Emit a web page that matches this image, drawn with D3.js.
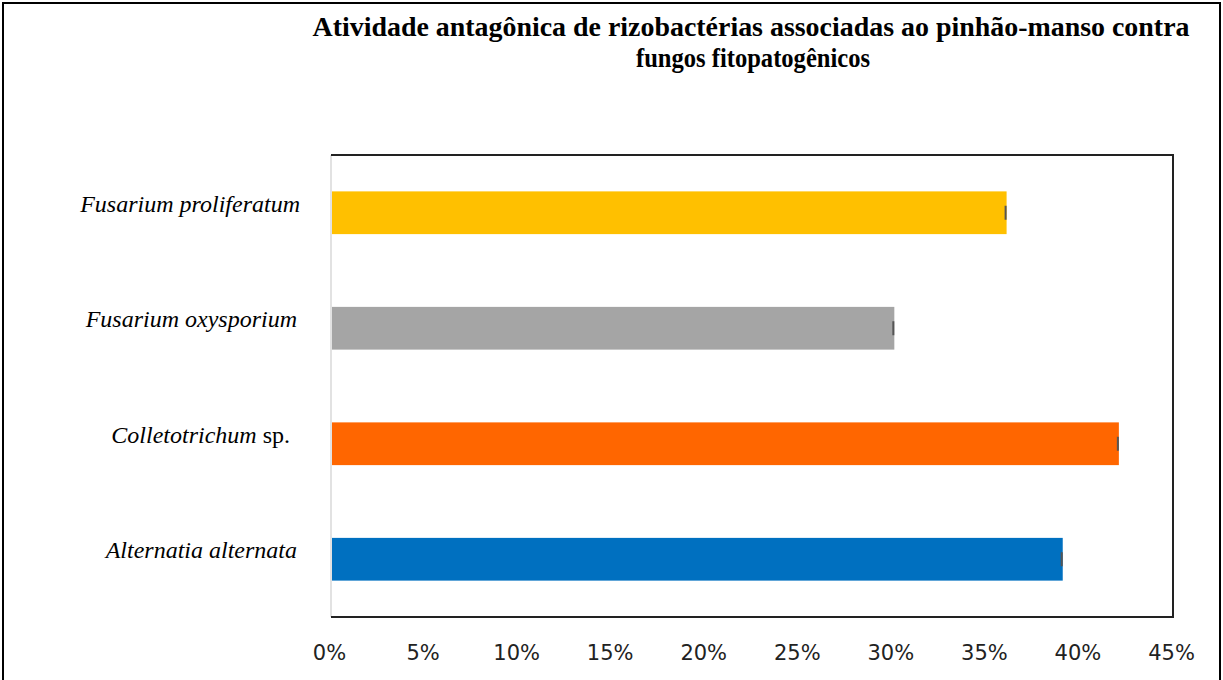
<!DOCTYPE html>
<html lang="pt">
<head>
<meta charset="utf-8">
<title>Atividade antagônica</title>
<script src="https://cdn.jsdelivr.net/npm/d3@7"></script>
<style>
  body { margin: 0; background: #fff; }
</style>
</head>
<body>
<div id="chart"></div>
<script>
// data, top to bottom
var fungi = ["Fusarium proliferatum", "Fusarium oxysporium", "Colletotrichum", "Alternatia alternata"];
var suffixes = ["", "", " sp.", ""];
var values = [36, 30, 42, 39];
var colors = ["#FFC000", "#A5A5A5", "#FF6600", "#0070C0"];
var ticks = [0, 5, 10, 15, 20, 25, 30, 35, 40, 45];

var WIDTH = 1223, HEIGHT = 680;
var plotL = 331, plotR = 1173, plotT = 155, plotB = 617;
var SERIF = "'Liberation Serif', 'Times New Roman', serif";

var svg = d3.select("#chart").append("svg")
    .attr("width", WIDTH)
    .attr("height", HEIGHT);

// outer frame
svg.append("rect")
    .attr("x", 3).attr("y", 3)
    .attr("width", 1217).attr("height", 720)
    .attr("fill", "none")
    .attr("stroke", "#000")
    .attr("stroke-width", 2);

// title
svg.append("text")
    .attr("x", 751).attr("y", 36)
    .attr("text-anchor", "middle")
    .attr("font-family", SERIF)
    .attr("font-weight", "bold")
    .attr("font-size", 28)
    .attr("textLength", 877)
    .attr("lengthAdjust", "spacingAndGlyphs")
    .text("Atividade antagônica de rizobactérias associadas ao pinhão-manso contra");
svg.append("text")
    .attr("x", 753).attr("y", 67)
    .attr("text-anchor", "middle")
    .attr("font-family", SERIF)
    .attr("font-weight", "bold")
    .attr("font-size", 28)
    .attr("textLength", 234)
    .attr("lengthAdjust", "spacingAndGlyphs")
    .text("fungos fitopatogênicos");

var x = d3.scaleLinear().domain([0, 45]).range([plotL, plotR]);
var y = d3.scaleBand().domain(fungi).range([plotT, plotB]).paddingInner(0.63).paddingOuter(0.315);

// plot frame
svg.append("line")
    .attr("x1", plotL).attr("x2", plotL).attr("y1", plotT).attr("y2", plotB)
    .attr("stroke", "#d9d9d9").attr("stroke-width", 1.5);
svg.append("path")
    .attr("d", "M" + plotL + "," + plotT + "H" + plotR + "V" + plotB + "H" + plotL)
    .attr("fill", "none")
    .attr("stroke", "#222")
    .attr("stroke-width", 2);

// bars
svg.selectAll("rect.bar").data(fungi).enter().append("rect")
    .attr("class", "bar")
    .attr("x", x(0) + 1)
    .attr("y", function(d) { return y(d); })
    .attr("width", function(d, i) { return x(values[i]) - x(0) + 1; })
    .attr("height", y.bandwidth())
    .attr("fill", function(d, i) { return colors[i]; });

// tiny error marks at bar ends
svg.selectAll("line.err").data(fungi).enter().append("line")
    .attr("class", "err")
    .attr("x1", function(d, i) { return x(values[i]) + 1; })
    .attr("x2", function(d, i) { return x(values[i]) + 1; })
    .attr("y1", function(d) { return y(d) + y.bandwidth() / 2 - 7; })
    .attr("y2", function(d) { return y(d) + y.bandwidth() / 2 + 7; })
    .attr("stroke", "#555")
    .attr("stroke-width", 2);

// category labels
var labels = svg.selectAll("text.cat").data(fungi).enter().append("text")
    .attr("class", "cat")
    .attr("x", function(d, i) { return i == 2 ? 290 : (i == 0 ? 300 : 297); })
    .attr("y", function(d) { return y(d) + y.bandwidth() / 2 - 1; })
    .attr("text-anchor", "end")
    .attr("font-family", SERIF)
    .attr("font-size", 24);
labels.append("tspan")
    .attr("font-style", "italic")
    .text(function(d) { return d; });
labels.append("tspan")
    .text(function(d, i) { return suffixes[i]; });

// x axis labels
var axis = d3.axisBottom(x)
    .tickValues(ticks)
    .tickSize(0)
    .tickPadding(0)
    .tickFormat(function(d) { return d + "%"; });
var gx = svg.append("g")
    .attr("transform", "translate(-2,645)")
    .call(axis);
gx.select(".domain").remove();
gx.selectAll("text")
    .attr("font-family", "'DejaVu Sans', sans-serif")
    .attr("font-size", 21)
    .attr("fill", "#222");
</script>
</body>
</html>
